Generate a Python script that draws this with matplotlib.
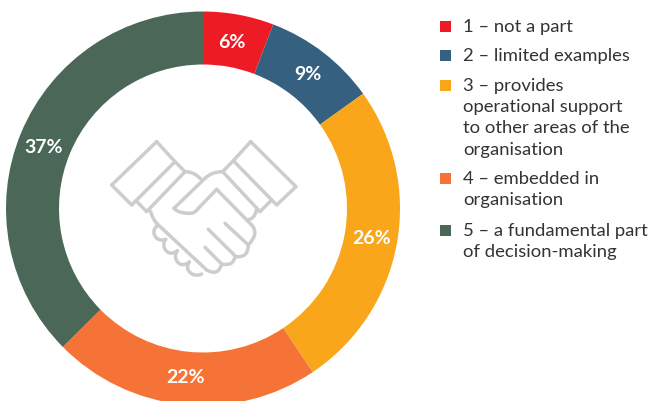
import matplotlib
matplotlib.use('Agg')
import matplotlib.pyplot as plt
from matplotlib.patches import Rectangle, PathPatch
from matplotlib.path import Path

categories = ['1 – not a part', '2 – limited examples',
              '3 – provides\noperational support\nto other areas of the\norganisation',
              '4 – embedded in\norganisation',
              '5 – a fundamental part\nof decision-making']
values = [5.8, 9.3, 25.5, 22.0, 37.4]
colors = ['#ED1C24', '#36607F', '#FAA61A', '#F57336', '#4A6758']

W, H = 649, 401
fig = plt.figure(figsize=(W/100, H/100), dpi=100)
FONT = 'Lato'

# donut
cx, cy, R, r_in = 203, 208.5, 197, 144
ax = fig.add_axes([(cx-R)/W, 1-(cy+R)/H, 2*R/W, 2*R/H])
wedges, _, autos = ax.pie(values, colors=colors, startangle=90, counterclock=False,
                          radius=1, wedgeprops=dict(width=1-r_in/R, linewidth=0),
                          autopct='%.0f%%', pctdistance=170/R,
                          textprops=dict(color='white', family=FONT, fontweight='bold', fontsize=14))
ax.set_xlim(-1, 1); ax.set_ylim(-1, 1)
# small label nudges (pixels: right, down) to sit where the reference has them
for t, (dx, dy) in zip(autos, [(-2, 1), (1, 1), (1, 0), (0, 0), (-3, 5)]):
    x, y = t.get_position()
    t.set_position((x + dx/R, y - dy/R))

# overlay in pixel coordinates
ov = fig.add_axes([0, 0, 1, 1]); ov.set_xlim(0, W); ov.set_ylim(H, 0); ov.axis('off')

# legend
line_h = 21.2
ys = [27, 56, 86, 179, 231]
for lab, col, y in zip(categories, colors, ys):
    ov.add_patch(Rectangle((440, y-6), 11, 11, color=col, lw=0))
    for i, ln in enumerate(lab.split('\n')):
        ov.text(463, y+i*line_h, ln, family=FONT, fontsize=13.3, color='#333333', va='center', ha='left')

def Z(x, y):
    return (100+x/3, 130+y/3)
icon = '#CDCDCD'
LW = 2.5
def poly(pts, closed=False):
    xs, ys_ = zip(*[Z(*p) for p in pts])
    if closed:
        xs += (xs[0],); ys_ += (ys_[0],)
    ov.plot(xs, ys_, color=icon, lw=LW, solid_capstyle='round', solid_joinstyle='round')
def curve(pts):
    codes = [Path.MOVETO] + [Path.CURVE3]*(len(pts)-1)
    ov.add_patch(PathPatch(Path([Z(*p) for p in pts], codes), fc='none', ec=icon, lw=LW, capstyle='round', joinstyle='round'))
def cubic(pts):
    codes = [Path.MOVETO] + [Path.CURVE4]*(len(pts)-1)
    ov.add_patch(PathPatch(Path([Z(*p) for p in pts], codes), fc='none', ec=icon, lw=LW, capstyle='round', joinstyle='round'))

poly([(170,35),(35,165),(95,225),(225,95)], True)
poly([(225,95),(255,125),(140,245),(108,212)])
poly([(452,35),(588,170),(530,225),(400,92)], True)
poly([(400,92),(368,125),(480,245),(515,210)])
curve([(255,125),(285,125),(305,150)])
curve([(368,125),(335,125),(315,145)])
poly([(315,145),(222,235)])
curve([(222,235),(235,250),(270,250)])
curve([(270,250),(285,250),(295,235)])
poly([(295,235),(350,178)])
poly([(350,178),(455,285)])
curve([(455,285),(478,310),(445,345)])
curve([(445,345),(445,385),(405,380)])
curve([(405,380),(400,410),(365,402)])
curve([(365,402),(355,440),(320,420)])
poly([(320,420),(170,280)])
curve([(170,280),(155,262),(152,245)])
curve([(470,238),(465,268),(440,270)])
# finger bumps
cubic([(172,288),(150,300),(165,340),(197,328)])
cubic([(197,328),(180,350),(205,385),(232,362)])
cubic([(232,362),(215,385),(240,420),(268,396)])
cubic([(268,396),(250,420),(280,445),(305,432)])
# finger lines
poly([(375,280),(445,345)])
poly([(325,298),(408,380)])
poly([(315,352),(365,402)])

fig.savefig('out.png', dpi=100)
